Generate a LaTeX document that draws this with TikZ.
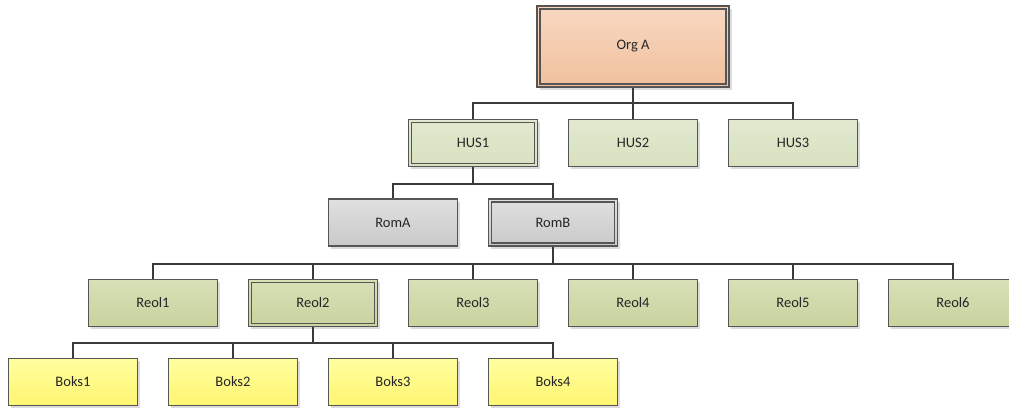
\documentclass[tikz,border=0pt]{standalone}
\usepackage{fontspec}
\setmainfont{Carlito}
\usetikzlibrary{shadows}
\definecolor{borderc}{HTML}{555555}
\definecolor{linec}{HTML}{3A3A3A}
\definecolor{txtc}{HTML}{262626}
\tikzset{
  box/.style={rectangle, draw=borderc, line width=1.2pt, minimum width=129pt, minimum height=47pt,
    inner sep=0pt, font=\fontsize{14.5}{16}\selectfont, text=txtc,
    drop shadow={shadow xshift=2.5pt, shadow yshift=-2.5pt, fill=black!30, opacity=0.45}},
  dbl/.style={path picture={\draw[borderc, line width=1.2pt]
      ([shift={(3pt,3pt)}]path picture bounding box.south west) rectangle
      ([shift={(-3pt,-3pt)}]path picture bounding box.north east);}},
  orgbox/.style={box, top color=orgtop, bottom color=orgbot, minimum width=192pt, minimum height=81pt},
  husbox/.style={box, top color=hustop, bottom color=husbot},
  rombox/.style={box, top color=romtop, bottom color=rombot},
  reolbox/.style={box, top color=reoltop, bottom color=reolbot},
  boksbox/.style={box, top color=bokstop, bottom color=boksbot},
  conn/.style={draw=linec, line width=1.9pt},
}
\definecolor{orgtop}{HTML}{F8D8C2}
\definecolor{orgbot}{HTML}{F0C09C}
\definecolor{hustop}{HTML}{E2E9D0}
\definecolor{husbot}{HTML}{D8E1C0}
\definecolor{romtop}{HTML}{E0E0E0}
\definecolor{rombot}{HTML}{C9C9C9}
\definecolor{reoltop}{HTML}{D8E0B6}
\definecolor{reolbot}{HTML}{C8D39F}
\definecolor{bokstop}{HTML}{FFFFA0}
\definecolor{boksbot}{HTML}{FFF570}
\begin{document}
\begin{tikzpicture}[x=1pt,y=-1pt]
\fill[white] (0,0) rectangle (1009,408);
\useasboundingbox (0,0) rectangle (1009,408);
\node[orgbox, dbl] (org) at (633,46.5) {Org A};
\node[husbox, dbl] (hus1) at (473,143) {HUS1};
\node[husbox] (hus2) at (633,143) {HUS2};
\node[husbox] (hus3) at (793,143) {HUS3};
\node[rombox] (roma) at (393,222.5) {RomA};
\node[rombox, dbl] (romb) at (553,222.5) {RomB};
\node[reolbox] (reol1) at (153,303) {Reol1};
\node[reolbox, dbl] (reol2) at (313,303) {Reol2};
\node[reolbox] (reol3) at (473,303) {Reol3};
\node[reolbox] (reol4) at (633,303) {Reol4};
\node[reolbox] (reol5) at (793,303) {Reol5};
\node[reolbox] (reol6) at (953,303) {Reol6};
\node[boksbox] (boks1) at (73,382) {Boks1};
\node[boksbox] (boks2) at (233,382) {Boks2};
\node[boksbox] (boks3) at (393,382) {Boks3};
\node[boksbox] (boks4) at (553,382) {Boks4};
\foreach \c in {hus1,hus2,hus3}
  \draw[conn] (org.south) -- ++(0,15.5) -| (\c.north);
\foreach \c in {roma,romb}
  \draw[conn] (hus1.south) -- ++(0,16.5) -| (\c.north);
\foreach \c in {reol1,reol2,reol3,reol4,reol5,reol6}
  \draw[conn] (romb.south) -- ++(0,17) -| (\c.north);
\foreach \c in {boks1,boks2,boks3,boks4}
  \draw[conn] (reol2.south) -- ++(0,15.5) -| (\c.north);
\end{tikzpicture}
\end{document}
